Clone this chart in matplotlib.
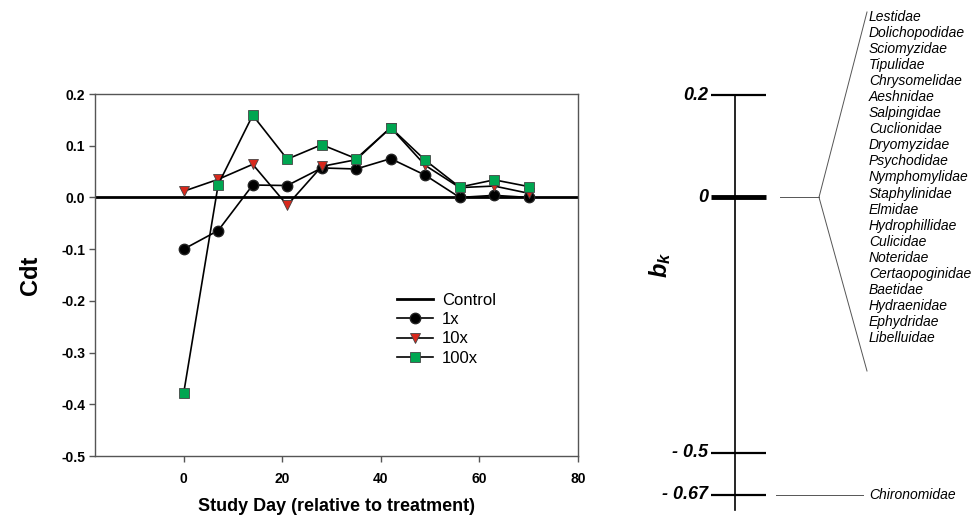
import numpy as np
import matplotlib
matplotlib.use("Agg")
import matplotlib.pyplot as plt

plt.rcParams['font.family'] = ['Liberation Sans', 'DejaVu Sans']
plt.rcParams['mathtext.fontset'] = 'custom'
plt.rcParams['mathtext.it'] = 'Liberation Sans:italic:bold'
plt.rcParams['mathtext.rm'] = 'Liberation Sans:bold'

# ---- data ----
days = [0, 7, 14, 21, 28, 35, 42, 49, 56, 63, 70]
control = 0.0
c_1x = [-0.100, -0.064, 0.024, 0.023, 0.057, 0.055, 0.075, 0.043, 0.000, 0.004, 0.000]
c_10x = [0.012, 0.035, 0.064, -0.015, 0.060, 0.073, 0.135, 0.062, 0.019, 0.022, 0.008]
c_100x = [-0.378, 0.025, 0.159, 0.074, 0.102, 0.075, 0.135, 0.072, 0.020, 0.034, 0.021]

bk_ticks = [0.2, 0.0, -0.5, -0.67]
bk_labels = ['0.2', '0', '- 0.5', '- 0.67']
taxa_zero = ['Lestidae', 'Dolichopodidae', 'Sciomyzidae', 'Tipulidae', 'Chrysomelidae',
             'Aeshnidae', 'Salpingidae', 'Cuclionidae', 'Dryomyzidae', 'Psychodidae',
             'Nymphomylidae', 'Staphylinidae', 'Elmidae', 'Hydrophillidae', 'Culicidae',
             'Noteridae', 'Certaopoginidae', 'Baetidae', 'Hydraenidae', 'Ephydridae',
             'Libelluidae']
taxa_neg = ['Chironomidae']
bk_neg = -0.67

W, H = 972, 520
fig = plt.figure(figsize=(W / 100, H / 100), dpi=100)

# ---- left panel ----
ax = fig.add_axes([95 / W, 1 - 456 / H, (578 - 95) / W, (456 - 94) / H])
ax.axhline(control, color='black', lw=2, label='Control', zorder=2)
ax.plot(days, c_1x, '-o', color='black', lw=1.2, ms=7.5, mfc='black', mec='#222222',
        label='1x', zorder=3)
ax.plot(days, c_10x, '-v', color='black', lw=1.2, ms=7.5, mfc='#d8281c', mec='#444444',
        mew=0.6, label='10x', zorder=4)
ax.plot(days, c_100x, '-s', color='black', lw=1.2, ms=7, mfc='#00a651', mec='#444444',
        mew=0.6, label='100x', zorder=5)
ax.set_xlim(-18, 80)
ax.set_ylim(-0.5, 0.2)
ax.set_xticks([0, 20, 40, 60, 80])
ax.set_yticks(np.arange(-0.5, 0.21, 0.1))
ax.yaxis.set_major_formatter(matplotlib.ticker.FuncFormatter(
    lambda v, p: '%.1f' % (0.0 if abs(v) < 1e-9 else v)))
for s in ax.spines.values():
    s.set_color('#555555')
    s.set_linewidth(1)
ax.tick_params(direction='out', length=4, width=1, color='#555555', labelsize=10)
ax.tick_params(axis='x', pad=7.5)
ax.tick_params(axis='y', pad=3)
for lab in ax.get_xticklabels() + ax.get_yticklabels():
    lab.set_fontweight('bold')
ax.set_xlabel('Study Day (relative to treatment)', fontsize=13, fontweight='bold', labelpad=9)
ax.set_ylabel('Cdt', fontsize=17, fontweight='bold', labelpad=14)
ax.legend(loc='upper left', bbox_to_anchor=(0.625, 0.45), frameon=False, fontsize=12,
          handlelength=2.15, labelspacing=0.25, handletextpad=0.55, borderpad=0,
          borderaxespad=0)

# ---- right panel: b_k scale (broken below -0.5) ----
k = 0.483


def fwd(y):
    y = np.asarray(y, dtype=float)
    return np.where(y >= -0.5, y, -0.5 + (y + 0.5) * k)


def inv(f):
    f = np.asarray(f, dtype=float)
    return np.where(f >= -0.5, f, -0.5 + (f + 0.5) / k)


ppu = 511.4  # pixels per unit


def pix2val(p):
    return float(inv(0.2 - (p - 95) / ppu))


bx = fig.add_axes([640 / W, 0, (W - 640) / W, 1])
bx.set_yscale('function', functions=(fwd, inv))
bx.set_xlim(640, W)
bx.set_ylim(pix2val(H), pix2val(0))
bx.axis('off')

bx.plot([735, 735], [bk_ticks[0], pix2val(510)], color='black', lw=1.2)
for v, lab in zip(bk_ticks, bk_labels):
    bx.plot([711, 766], [v, v], color='black', lw=3.5 if v == 0 else 1.6,
            solid_capstyle='butt')
    bx.text(708, v, lab, ha='right', va='center', fontsize=13,
            fontweight='bold', fontstyle='italic')
bx.text(660, pix2val(265), '$b_k$', rotation=90, ha='center', va='center', fontsize=17)

# bracket for taxa at zero
thin = dict(color='#555555', lw=0.7)
bx.plot([780, 819], [0, 0], **thin)
bx.plot([819, 867], [0, pix2val(12)], **thin)
bx.plot([819, 867], [0, pix2val(371)], **thin)
for i, name in enumerate(taxa_zero):
    bx.text(869, pix2val(17 + i * 16.05), name, ha='left', va='center',
            fontsize=10, fontstyle='italic')

bx.plot([776, 863], [bk_neg, bk_neg], **thin)
bx.text(869, bk_neg, taxa_neg[0], ha='left', va='center', fontsize=10, fontstyle='italic')

fig.savefig('out.png', dpi=100)
